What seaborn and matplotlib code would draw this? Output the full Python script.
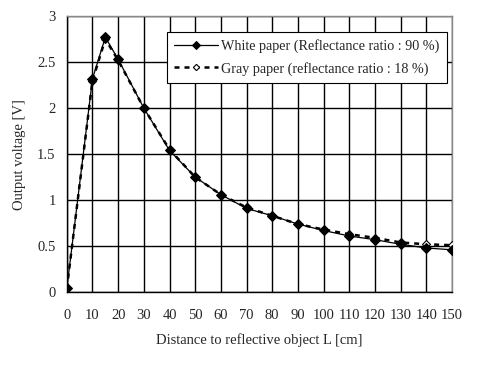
import numpy as np
import pandas as pd
import matplotlib
matplotlib.use("Agg")
import matplotlib.pyplot as plt
import seaborn as sns

# distances in cm
distance = [0, 10, 15, 20, 30, 40, 50, 60, 70, 80, 90, 100, 110, 120, 130, 140, 150]
# output voltage, white paper (90 %)
white_v = [0.04, 2.32, 2.77, 2.53, 2.0, 1.54, 1.25, 1.06, 0.91, 0.83, 0.74, 0.67, 0.61, 0.57, 0.52, 0.48, 0.46]
# output voltage, gray paper (18 %)
gray_v = [0.04, 2.30, 2.75, 2.52, 2.0, 1.55, 1.25, 1.06, 0.92, 0.83, 0.74, 0.68, 0.63, 0.59, 0.54, 0.52, 0.51]

white_label = "White paper (Reflectance ratio : 90 %)"
gray_label = "Gray paper (reflectance ratio : 18 %)"

sns.set_style("white")
plt.rcParams['font.family'] = ['Liberation Serif', 'DejaVu Serif']

fig = plt.figure(figsize=(4.95, 3.75), dpi=100)
ax = fig.add_axes([0.135, 0.221, 0.778, 0.736])

df = pd.DataFrame({"L": distance, "white": white_v, "gray": gray_v})

sns.lineplot(data=df, x="L", y="gray", ax=ax, color="black", linestyle=(0, (2, 2)),
             linewidth=1.8, marker="D", markersize=4, markerfacecolor="white",
             markeredgecolor="black", markeredgewidth=0.8, label=gray_label, zorder=3)
sns.lineplot(data=df, x="L", y="white", ax=ax, color="black", linewidth=0.9,
             marker="D", markersize=5, markerfacecolor="black",
             markeredgecolor="black", label=white_label, zorder=4)

ax.set_xlim(0, 150)
ax.set_ylim(0, 3)
ax.set_xticks(np.arange(0, 151, 10))
ax.set_yticks(np.arange(0, 3.01, 0.5))
ax.set_yticklabels(["0", "0.5", "1", "1.5", "2", "2.5", "3"])
ax.grid(True, color="black", linewidth=1.0)
ax.set_axisbelow(True)
for s in ax.spines.values():
    s.set_color("black")
    s.set_linewidth(1.0)
ax.spines["right"].set_color("#888888")
ax.spines["top"].set_color("#888888")
ax.tick_params(axis="both", length=0, labelsize=10.5, pad=12)
ax.tick_params(axis="y", pad=8)

ax.set_xlabel("Distance to reflective object L [cm]", fontsize=10.5, labelpad=8)
ax.set_ylabel("Output voltage [V]", fontsize=10.5, labelpad=8)

h, l = ax.get_legend_handles_labels()
leg = ax.legend([h[1], h[0]], [l[1], l[0]], loc="upper right", bbox_to_anchor=(0.987, 0.942),
                fontsize=10.2, frameon=True, fancybox=False, framealpha=1,
                edgecolor="black", handlelength=3.1, handletextpad=0.25,
                borderpad=0.5, labelspacing=0.6, borderaxespad=0, markerscale=0.8)
leg.get_frame().set_linewidth(0.8)

fig.savefig("out.png", dpi=100)
